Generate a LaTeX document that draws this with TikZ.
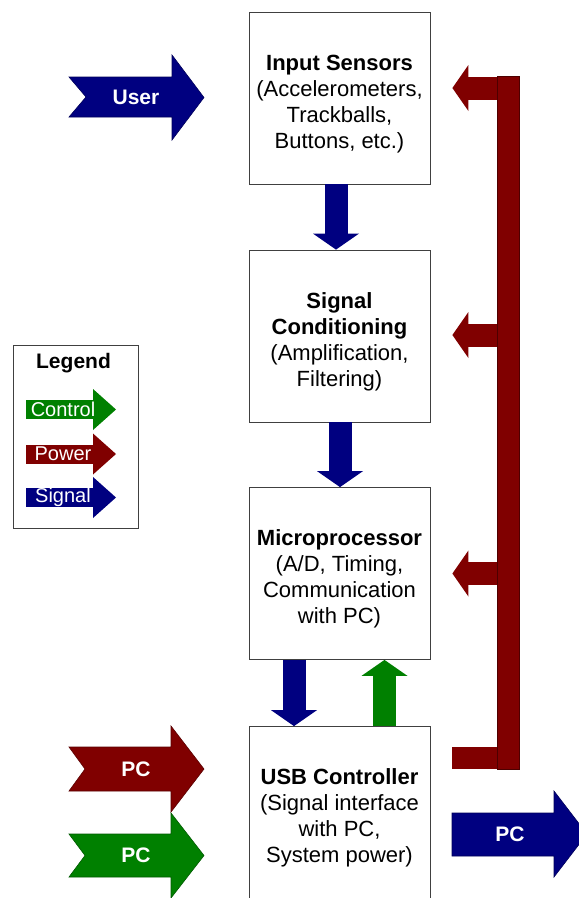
\documentclass[tikz,border=0pt]{standalone}
\usepackage{fontspec}
\setmainfont{Liberation Sans}
\usetikzlibrary{arrows.meta}
\definecolor{sigblue}{RGB}{0,0,128}
\definecolor{pwrred}{RGB}{128,0,0}
\definecolor{ctlgreen}{RGB}{0,128,0}
\newcommand{\topgap}{\rule{0pt}{27pt}}
\tikzset{
  block/.style={draw=black!75, line width=0.8pt, fill=white, minimum width=181pt, minimum height=172pt, inner sep=0pt, align=center, font=\fontsize{22}{26}\selectfont},
  flow/.style={line width=23pt, -{Triangle[width=46pt,length=16pt,line width=0pt]}},
  keyflow/.style={line width=19pt, -{Triangle[width=41pt,length=23pt,line width=0pt]}},
  notched/.style={draw=#1!70!black, fill=#1, line width=0.6pt},
  tag/.style={text=white, font=\fontsize{21}{24}\selectfont\bfseries},
  keytag/.style={text=white, font=\fontsize{20}{24}\selectfont},
}

\begin{document}
\begin{tikzpicture}[x=1pt,y=-1pt]
        \clip (0,0) rectangle (579,898);
        \fill[white] (0,0) rectangle (579,898);

        % blocks
        \node[block] (sens) at (339.5,98) {\topgap\textbf{Input Sensors}\\(Accelerometers,\\Trackballs,\\Buttons, etc.)};
        \node[block] (cond) at (339.5,336) {\topgap\textbf{Signal}\\\textbf{Conditioning}\\(Amplification,\\Filtering)};
        \node[block] (mcu) at (339.5,573.5) {\topgap\textbf{Microprocessor}\\(A/D, Timing,\\Communication\\with PC)};
        \node[block] (usb) at (339.5,812.5) {\topgap\textbf{USB Controller}\\(Signal interface\\with PC,\\System power)};

        % signal and control paths
        \draw[flow, sigblue] ([xshift=-3.5pt]sens.south) -- ([xshift=-3.5pt]cond.north);
        \draw[flow, sigblue] ([xshift=0.5pt]cond.south) -- ([xshift=0.5pt]mcu.north);
        \draw[flow, sigblue] ([xshift=-45.5pt]mcu.south) -- ([xshift=-45.5pt]usb.north);
        \draw[flow, ctlgreen] ([xshift=45pt]usb.north) -- ([xshift=45pt]mcu.south);

        % power bus
        \node[draw=pwrred!60!black, fill=pwrred, line width=0.6pt, minimum width=22pt, minimum height=693pt, inner sep=0pt] (bus) at (508,422.5) {};
        \coordinate (usbp) at ([xshift=22pt,yshift=54.5pt]usb.east);
        \coordinate (sensp) at ([xshift=22pt,yshift=10pt]sens.east);
        \coordinate (condp) at ([xshift=22pt,yshift=1pt]cond.east);
        \coordinate (mcup) at ([xshift=22pt]mcu.east);
        \draw[pwrred, line width=22pt] (usbp) -- (usbp -| bus.west);
        \draw[flow, pwrred] (sensp -| bus.west) -- (sensp);
        \draw[flow, pwrred] (condp -| bus.west) -- (condp);
        \draw[flow, pwrred] (mcup -| bus.west) -- (mcup);

        % outside connections
        \draw[notched=sigblue] (69,77) -- (172,77) -- (172,55) -- (204,97.5) -- (172,140) -- (172,117) -- (69,117) -- (86,97) -- cycle;
        \node[tag] (user) at (136,97) {User};
        \draw[notched=pwrred] (69,747) -- (171,747) -- (171,726) -- (204,769) -- (171,812) -- (171,791) -- (69,791) -- (85,769) -- cycle;
        \node[tag] (pcpwr) at (136,769) {PC};
        \draw[notched=ctlgreen] (69,834) -- (171,834) -- (171,813) -- (204,855.5) -- (171,898) -- (171,877) -- (69,877) -- (85,855.5) -- cycle;
        \node[tag] (pcctl) at (136,855.5) {PC};
        \draw[notched=sigblue] (452,813) -- (554,813) -- (554,791) -- (587,834) -- (554,877) -- (554,856) -- (452,856) -- cycle;
        \node[tag] (pcsig) at (510,834) {PC};

        % legend
        \node[draw=black!75, line width=0.8pt, minimum width=125pt, minimum height=183pt, inner sep=0pt] (legend) at (75.5,436.5) {};
        \node[font=\fontsize{21}{24}\selectfont\bfseries] (legtitle) at (73.5,363) {Legend};
        \draw[keyflow, ctlgreen] (26,409.5) -- (116,409.5);
        \node[keytag] (ctl) at (63,409.5) {Control};
        \draw[keyflow, pwrred] (26,454) -- (116,454);
        \node[keytag] (pwr) at (63,454) {Power};
        \draw[keyflow, sigblue] (26,497.5) -- (116,497.5);
        \node[keytag] (sig) at (63,497.5) {Signal};
\end{tikzpicture}
\end{document}
